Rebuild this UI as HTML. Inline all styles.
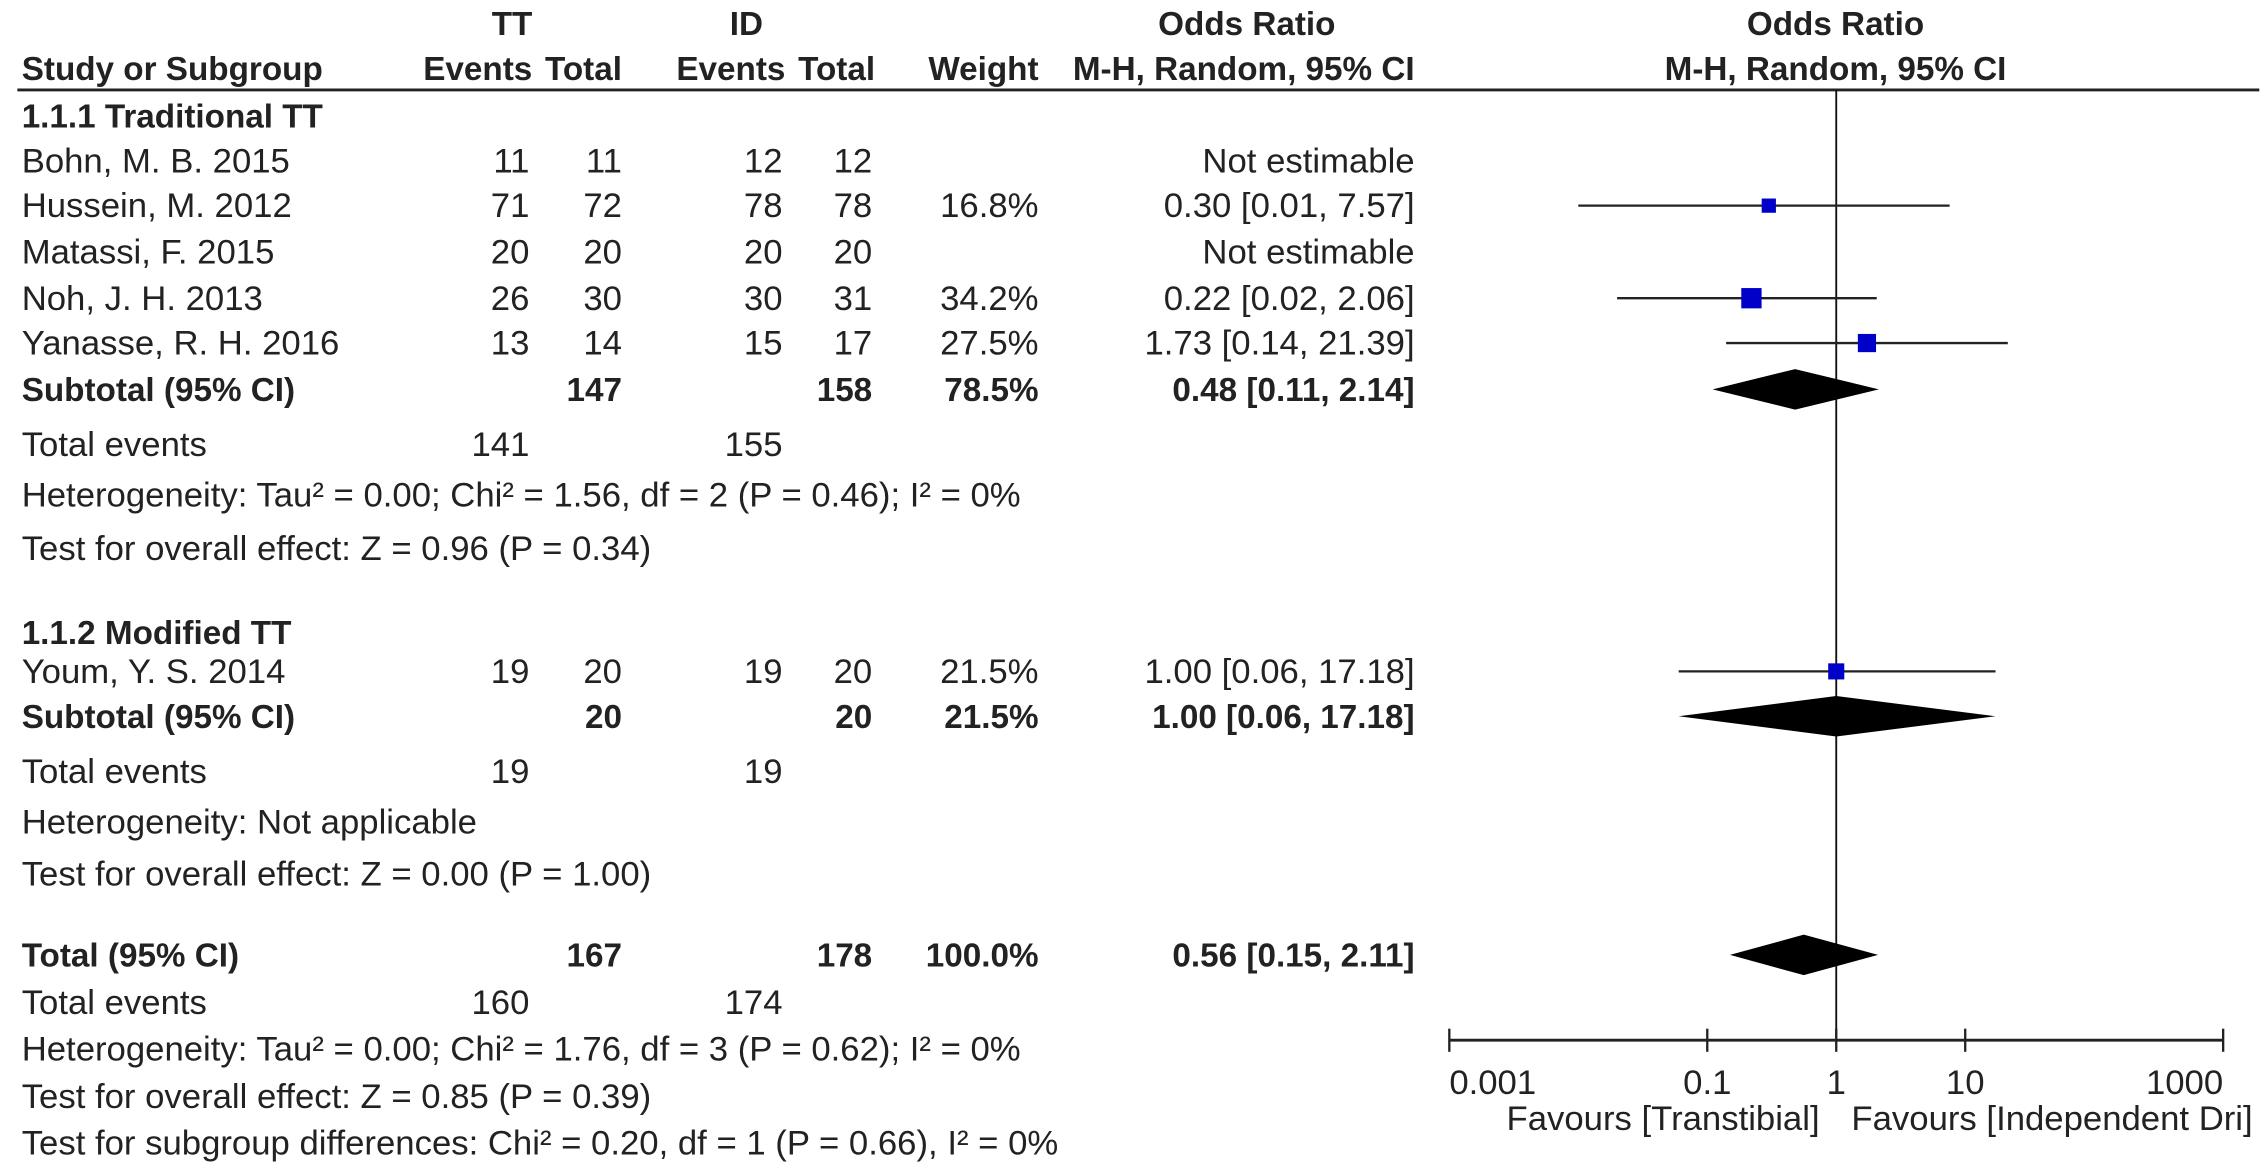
<!DOCTYPE html>
<html><head><meta charset="utf-8">
<style>
html,body{margin:0;padding:0;background:#fff;}
svg{display:block;}
text{font-family:"Liberation Sans",Arial,sans-serif;font-size:24px;fill:#222;}
.b{font-weight:bold;font-size:23px;}
.r{text-anchor:end;}
.c{text-anchor:middle;}
</style></head>
<body>
<svg id="chart" width="2268" height="1175" viewBox="0 0 1568 812" xmlns="http://www.w3.org/2000/svg">
<g>
<text class="b c" x="354" y="24">TT</text>
<text class="b c" x="516" y="24">ID</text>
<text class="b c" x="862" y="24">Odds Ratio</text>
<text class="b c" x="1269" y="24">Odds Ratio</text>
<text class="b" x="15" y="55">Study or Subgroup</text>
<text class="b r" x="368" y="55">Events</text>
<text class="b r" x="430" y="55">Total</text>
<text class="b r" x="543" y="55">Events</text>
<text class="b r" x="605" y="55">Total</text>
<text class="b r" x="718" y="55">Weight</text>
<text class="b r" x="978" y="55">M-H, Random, 95% CI</text>
<text class="b c" x="1269" y="55">M-H, Random, 95% CI</text>
<line x1="12" y1="62" x2="1562" y2="62" stroke="#222" stroke-width="2"/>
</g>
<g id="rows"></g>
<g id="plot"></g>
</svg>
<script>
// study-level data
const studyNames = ["Bohn, M. B. 2015","Hussein, M. 2012","Matassi, F. 2015","Noh, J. H. 2013","Yanasse, R. H. 2016","Youm, Y. S. 2014"];
const studyRowY = [119,150,182,214,245,472];
const ttEvents = [11,71,20,26,13,19];
const ttTotal = [11,72,20,30,14,20];
const idEvents = [12,78,20,30,15,19];
const idTotal = [12,78,20,31,17,20];
const weights = [null,16.8,null,34.2,27.5,21.5];
const orValues = [null,0.30,null,0.22,1.73,1.00];
const ciLow = [null,0.01,null,0.02,0.14,0.06];
const ciHigh = [null,7.57,null,2.06,21.39,17.18];
// pooled estimates
const pooledNames = ["Subtotal (95% CI)","Subtotal (95% CI)","Total (95% CI)"];
const pooledRowY = [277,503,668];
const pooledTtTotal = [147,20,167];
const pooledIdTotal = [158,20,178];
const pooledWeights = [78.5,21.5,100.0];
const pooledOr = [0.48,1.00,0.56];
const pooledLow = [0.11,0.06,0.15];
const pooledHigh = [2.14,17.18,2.11];
// axis
const tickValues = [0.001,0.1,1,10,1000];
const tickLabels = ["0.001","0.1","1","10","1000"];

const NS="http://www.w3.org/2000/svg";
const rows=document.getElementById('rows');
const plot=document.getElementById('plot');
const xMin=1002,xMax=1537,lMin=-3,lMax=3;
function xScale(v){return xMin+(Math.log10(v)-lMin)/(lMax-lMin)*(xMax-xMin);}
function txt(parent,s,x,y,cls,name){
  const t=document.createElementNS(NS,'text');
  t.setAttribute('x',x);t.setAttribute('y',y);
  if(cls)t.setAttribute('class',cls);
  t.textContent=s;
  
  
  parent.appendChild(t);return t;
}
function el(parent,tag,attrs,name){
  const e=document.createElementNS(NS,tag);
  for(const k in attrs)e.setAttribute(k,attrs[k]);
  
  
  parent.appendChild(e);return e;
}
function fmt(v){return v.toFixed(2);}

const staticRows=[
 ["1.1.1 Traditional TT",88,"b","subgroup-1-title"],
 ["Total events",315,"","total-events-1"],
 ["Heterogeneity: Tau² = 0.00; Chi² = 1.56, df = 2 (P = 0.46); I² = 0%",350,"","heterogeneity-1"],
 ["Test for overall effect: Z = 0.96 (P = 0.34)",387,"","overall-effect-1"],
 ["1.1.2 Modified TT",445,"b","subgroup-2-title"],
 ["Total events",541,"","total-events-2"],
 ["Heterogeneity: Not applicable",576,"","heterogeneity-2"],
 ["Test for overall effect: Z = 0.00 (P = 1.00)",612,"","overall-effect-2"],
 ["Total events",701,"","total-events-all"],
 ["Heterogeneity: Tau² = 0.00; Chi² = 1.76, df = 3 (P = 0.62); I² = 0%",733,"","heterogeneity-all"],
 ["Test for overall effect: Z = 0.85 (P = 0.39)",766,"","overall-effect-all"],
 ["Test for subgroup differences: Chi² = 0.20, df = 1 (P = 0.66), I² = 0%",798,"","subgroup-differences"]
];
staticRows.forEach(r=>txt(rows,r[0],15,r[1],r[2],r[3]));
[[141,155,315],[19,19,541],[160,174,701]].forEach(r=>{
  txt(rows,String(r[0]),366,r[2],"r","tt-total-events");
  txt(rows,String(r[1]),541,r[2],"r","id-total-events");
});

studyNames.forEach((n,i)=>{
  const y=studyRowY[i];
  txt(rows,n,15,y,"","study-name");
  txt(rows,String(ttEvents[i]),366,y,"r","tt-events");
  txt(rows,String(ttTotal[i]),430,y,"r","tt-total");
  txt(rows,String(idEvents[i]),541,y,"r","id-events");
  txt(rows,String(idTotal[i]),603,y,"r","id-total");
  if(weights[i]!==null) txt(rows,weights[i].toFixed(1)+"%",718,y,"r","weight");
  if(orValues[i]===null){ txt(rows,"Not estimable",978,y,"r","or-ci"); }
  else{
    txt(rows,fmt(orValues[i])+" ["+fmt(ciLow[i])+", "+fmt(ciHigh[i])+"]",978,y,"r","or-ci");
  }
});
pooledNames.forEach((n,i)=>{
  const y=pooledRowY[i];
  txt(rows,n,15,y,"b","pooled-name");
  txt(rows,String(pooledTtTotal[i]),430,y,"b r","pooled-tt-total");
  txt(rows,String(pooledIdTotal[i]),603,y,"b r","pooled-id-total");
  txt(rows,pooledWeights[i].toFixed(1)+"%",718,y,"b r","pooled-weight");
  txt(rows,fmt(pooledOr[i])+" ["+fmt(pooledLow[i])+", "+fmt(pooledHigh[i])+"]",978,y,"b r","pooled-or-ci");
});

const axisY=719;
el(plot,'line',{x1:xScale(1),y1:62,x2:xScale(1),y2:axisY,stroke:'#111','stroke-width':1.3},'null-line');
studyNames.forEach((n,i)=>{
  if(orValues[i]===null)return;
  const y=studyRowY[i]-8;
  el(plot,'line',{x1:xScale(ciLow[i]),y1:y,x2:xScale(ciHigh[i]),y2:y,stroke:'#222','stroke-width':1.6},'ci-line');
  const s=2.4*Math.sqrt(weights[i]);
  el(plot,'rect',{x:xScale(orValues[i])-s/2,y:y-s/2,width:s,height:s,fill:'#0000c8'},'study-marker');
});
pooledNames.forEach((n,i)=>{
  const y=pooledRowY[i]-8,h=14;
  const pts=[[xScale(pooledLow[i]),y],[xScale(pooledOr[i]),y-h],[xScale(pooledHigh[i]),y],[xScale(pooledOr[i]),y+h]];
  el(plot,'polygon',{points:pts.map(p=>p.join(',')).join(' '),fill:'#000'},'pooled-diamond');
});
el(plot,'line',{x1:xMin,y1:axisY,x2:xMax,y2:axisY,stroke:'#222','stroke-width':2},'x-axis');
tickValues.forEach((v,i)=>{
  const x=xScale(v);
  el(plot,'line',{x1:x,y1:axisY-8,x2:x,y2:axisY+8,stroke:'#222','stroke-width':1.6},'x-tick');
  const anchor=i===0?'':(i===tickValues.length-1?'r':'c');
  txt(plot,tickLabels[i],x,axisY+37,anchor,'x-tick-label');
});
txt(plot,"Favours [Transtibial]",1258,781,"r","favours-left-label");
txt(plot,"Favours [Independent Dri]",1280,781,"","favours-right-label");
</script>
</body></html>
